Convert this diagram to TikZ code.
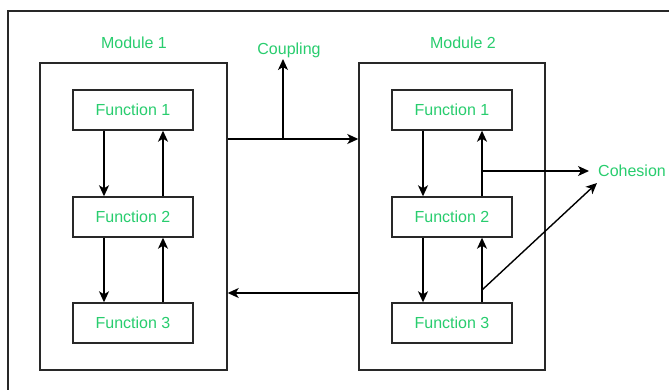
\documentclass[tikz,border=0pt]{standalone}
\usepackage{fontspec}
\setmainfont{Liberation Sans}
\usetikzlibrary{arrows.meta}
\definecolor{lbl}{RGB}{40,205,110}
\definecolor{frm}{RGB}{40,40,40}
\tikzset{
  box/.style={draw=frm, line width=1.4pt, minimum width=120pt, minimum height=40pt, inner sep=0pt, text=lbl, font=\fontsize{16}{18}\selectfont},
  modbox/.style={draw=frm, line width=1.4pt, inner sep=0pt},
  lab/.style={text=lbl, font=\fontsize{16}{18}\selectfont, inner sep=0pt},
  arr/.style={line width=1.4pt, -{Stealth[length=11pt,width=10pt,inset=3pt]}},
  ln/.style={line width=1.4pt}
}
\begin{document}
\begin{tikzpicture}[x=1pt,y=-1pt]
\useasboundingbox (0,0) rectangle (669,390);
\clip (0,0) rectangle (669,390);
\fill[white] (0,0) rectangle (669,390);
\draw[frm, line width=1.4pt] (8,11) rectangle (700,420);
% modules
\node[modbox, minimum width=187pt, minimum height=307pt] (m1) at (133.5,216.5) {};
\node[modbox, minimum width=186pt, minimum height=307pt] (m2) at (452,216.5) {};
\node[lab] (m1l) at (134,43) {Module 1};
\node[lab] (m2l) at (463,43) {Module 2};
% functions
\node[box] (a1) at (133,110) {Function 1};
\node[box] (a2) at (133,217) {Function 2};
\node[box] (a3) at (133,323) {Function 3};
\node[box] (b1) at (452,110) {Function 1};
\node[box] (b2) at (452,217) {Function 2};
\node[box] (b3) at (452,323) {Function 3};
% module 1 arrows
\draw[arr] (a1.south -| 104,0) -- (a2.north -| 104,0);
\draw[arr] (a2.north -| 163,0) -- (a1.south -| 163,0);
\draw[arr] (a2.south -| 104,0) -- (a3.north -| 104,0);
\draw[arr] (a3.north -| 163,0) -- (a2.south -| 163,0);
% module 2 arrows
\draw[arr] (b1.south -| 423,0) -- (b2.north -| 423,0);
\draw[arr] (b2.north -| 482,0) -- (b1.south -| 482,0);
\draw[arr] (b2.south -| 423,0) -- (b3.north -| 423,0);
\draw[arr] (b3.north -| 482,0) -- (b2.south -| 482,0);
% coupling
\coordinate (cp) at (283,139);
\draw[arr] (m1.east |- cp) -- (m2.west |- cp);
\node[lab] (coup) at (289,50) {Coupling};
\draw[arr] (cp) -- (283,59);
\draw[arr] (m2.west |- 0,293) -- (m1.east |- 0,293);
% cohesion
\node[lab, anchor=west] (coh) at (598,171) {Cohesion};
\coordinate (ch1) at (482,171);
\coordinate (ch2) at (482,290);
\draw[arr] (ch1) -- (coh.west -| 589,0);
\draw[arr] (ch2) -- (597,183);
\end{tikzpicture}
\end{document}
